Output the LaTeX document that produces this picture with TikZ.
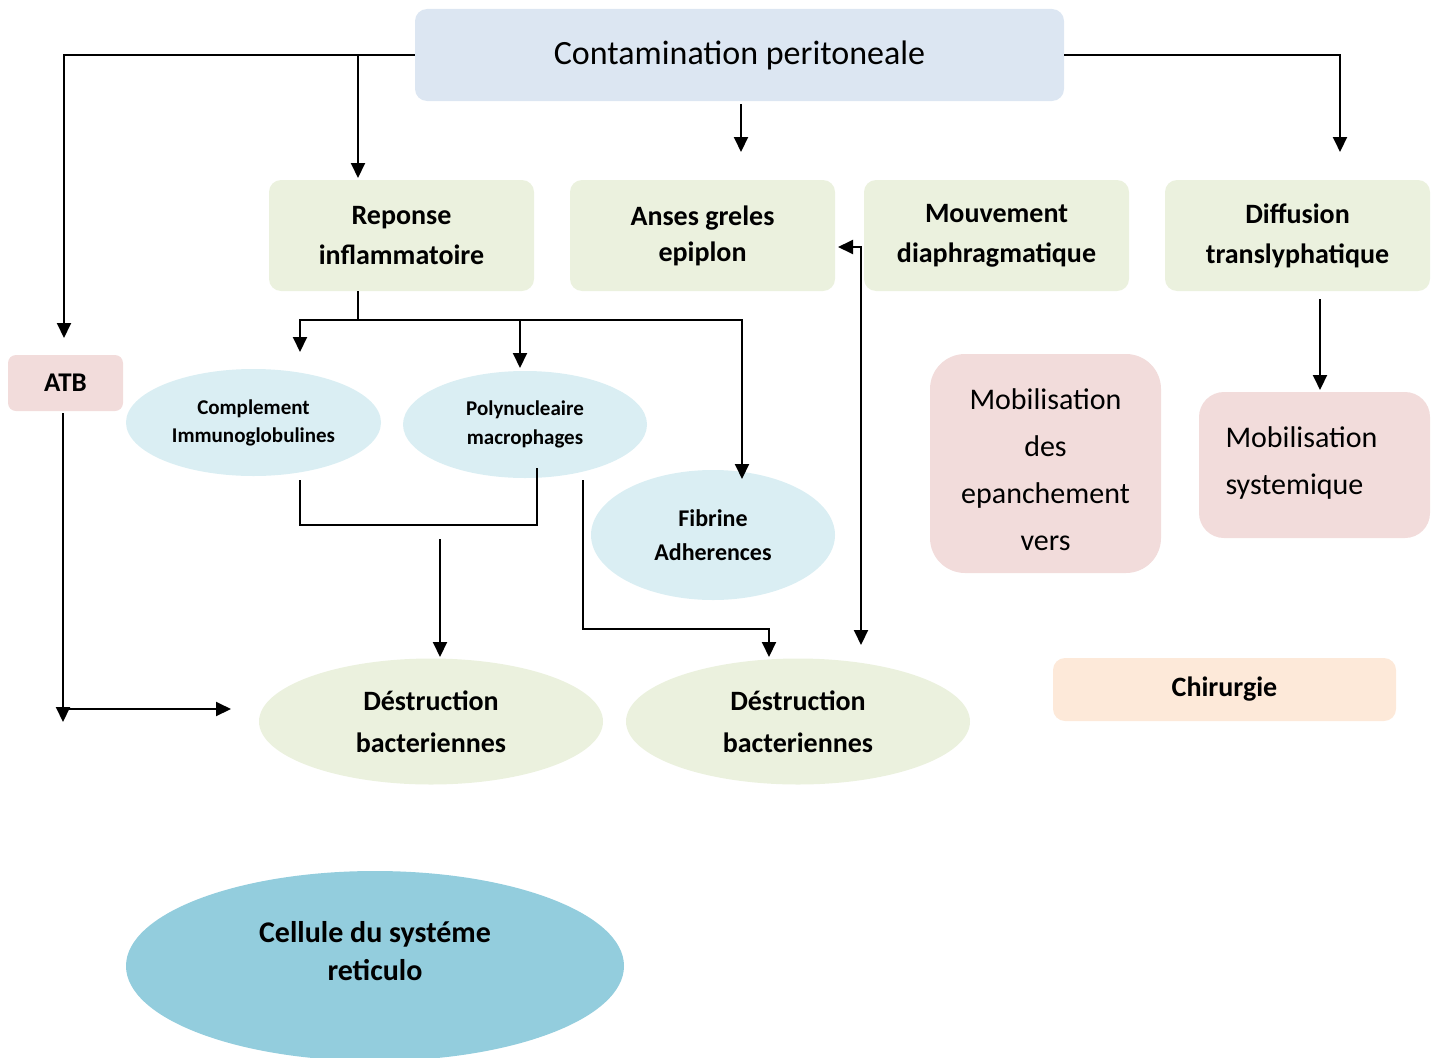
\documentclass[tikz,border=0pt]{standalone}
\usepackage{fontspec}
\setmainfont{Carlito}
\usetikzlibrary{arrows.meta,positioning,shapes.geometric}

\definecolor{topblue}{HTML}{DCE6F2}
\definecolor{palegreen}{HTML}{EBF1DE}
\definecolor{palepink}{HTML}{F2DCDB}
\definecolor{paleblue}{HTML}{DAEEF3}
\definecolor{paleorange}{HTML}{FDE9D9}
\definecolor{tealblue}{HTML}{93CDDD}

\begin{document}
\begin{tikzpicture}[
  x=1pt,y=-1pt,
  >={Triangle[length=15pt,width=14pt]},
  link/.style={line width=2pt},
  box/.style={rectangle,rounded corners=12pt,inner sep=0pt,align=center},
  stagebox/.style={box,fill=palegreen,minimum width=265pt,minimum height=111pt,
    font=\fontsize{28}{40}\selectfont\bfseries},
  mobbox/.style={box,fill=palepink,font=\fontsize{30}{47}\selectfont},
  cellbox/.style={ellipse,inner sep=0pt,align=center,fill=paleblue,
    minimum width=244pt,font=\fontsize{21}{28}\selectfont\bfseries},
  killbox/.style={ellipse,inner sep=0pt,align=center,fill=palegreen,
    minimum width=344pt,minimum height=126pt,font=\fontsize{28}{42}\selectfont\bfseries}
]
  \useasboundingbox (0,0) rectangle (1439,1057);

  \node[box,fill=topblue,minimum width=649pt,minimum height=92pt,
    font=\fontsize{34}{40}\selectfont] (cont) at (739.5,55) {Contamination peritoneale};

  \node[stagebox] (repo) at (401.5,235.5) {Reponse\\inflammatoire};
  \node[stagebox,font=\fontsize{28}{36}\selectfont\bfseries] (anses) at (702.5,235.5) {Anses greles\\epiplon};
  \node[stagebox] (mouv) at (996.5,235.5) {Mouvement\\diaphragmatique};
  \node[stagebox] (diff) at (1297.5,235.5) {Diffusion\\translyphatique};

  \node[box,rounded corners=8pt,fill=palepink,minimum width=115pt,minimum height=56pt,
    font=\fontsize{27}{30}\selectfont\bfseries] (atb) at (65.5,383) {ATB};

  \node[cellbox,minimum width=255pt,minimum height=107pt] (compl) at (253.5,422.5) {Complement\\Immunoglobulines};
  \node[cellbox,minimum height=107pt,font=\fontsize{21}{29}\selectfont\bfseries] (poly) at (525,424.5) {Polynucleaire\\macrophages};
  \node[cellbox,minimum height=130pt,font=\fontsize{24}{34}\selectfont\bfseries] (fibr) at (713,535) {Fibrine\\Adherences};

  \node[mobbox,rounded corners=35pt,minimum width=231pt,minimum height=219pt] (mobdes) at (1045.5,463.5)
    {\mbox{}\\[-14pt]Mobilisation\\des\\epanchement\\vers};
  \node[mobbox,rounded corners=25pt,minimum width=231pt,minimum height=146pt,align=left,
    text width=178pt] (mobsys) at (1314.5,465)
    {Mobilisation\\systemique\\[-39pt]\mbox{}};

  \node[killbox] (destrA) at (431,721.5) {Déstruction\\bacteriennes};
  \node[killbox] (destrB) at (798,721.5) {Déstruction\\bacteriennes};

  \node[box,fill=paleorange,minimum width=343pt,minimum height=63pt,
    font=\fontsize{28}{30}\selectfont\bfseries] (chir) at (1224.5,689.5) {Chirurgie};

  \node[ellipse,inner sep=0pt,align=center,fill=tealblue,minimum width=498pt,minimum height=190pt,
    font=\fontsize{30}{38}\selectfont\bfseries] (reti) at (375,966) {Cellule du systéme\\reticulo\\[-8pt]\mbox{}};

  % free ends of the connectors
  \coordinate (atbin) at (64,338);
  \coordinate (repoin) at (358,178);
  \coordinate (contout) at (741,104);
  \coordinate (ansesin) at (741,152);
  \coordinate (diffin) at (1340,152);
  \coordinate (split) at (358,320);
  \coordinate (complin) at (300,352);
  \coordinate (polyin) at (520,368);
  \coordinate (fibrin) at (742,479);
  \coordinate (ansesback) at (838,247);
  \coordinate (destrBup) at (861,645);
  \coordinate (diffout) at (1320,299);
  \coordinate (mobsysin) at (1320,390);
  \coordinate (atbout) at (63,413);
  \coordinate (atbdown) at (63,722);
  \coordinate (atbturn) at (63,709);
  \coordinate (destrAleft) at (231,709);
  \coordinate (complout) at (300,480);
  \coordinate (polyout) at (537,468);
  \coordinate (merge) at (537,525);
  \coordinate (mergeout) at (440,539);
  \coordinate (destrAin) at (440,657);
  \coordinate (polyout2) at (583,480);
  \coordinate (polyturn) at (583,629);
  \coordinate (destrBin) at (769,657);

  \draw[link,->] (cont.west) -| (atbin);
  \draw[link,->] (cont.west -| repoin) -- (repoin);
  \draw[link,->] (contout) -- (ansesin);
  \draw[link,->] (cont.east) -| (diffin);

  \draw[link] (split |- repo.south) -- (split);
  \draw[link,->] (split) -| (complin);
  \draw[link,->] (split) -| (fibrin);
  \draw[link,->] (split -| polyin) -- (polyin);

  \draw[link,<->] (ansesback) -| (destrBup);
  \draw[link,->] (diffout) -- (mobsysin);

  \draw[link,->] (atbout) -- (atbdown);
  \draw[link,->] (atbturn) -- (destrAleft);

  \draw[link] (complout) |- (merge) -- (polyout);
  \draw[link,->] (mergeout) -- (destrAin);
  \draw[link,->] (polyout2) -- (polyturn) -| (destrBin);
\end{tikzpicture}
\end{document}
